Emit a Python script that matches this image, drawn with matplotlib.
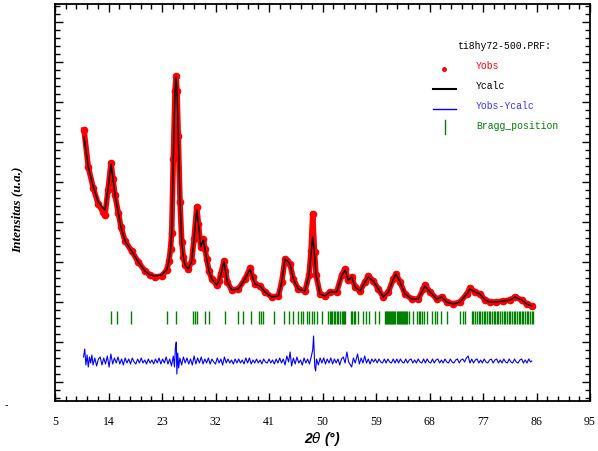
import numpy as np
import matplotlib.pyplot as plt
from matplotlib.lines import Line2D
from matplotlib.ticker import FixedLocator, MultipleLocator

# 2theta positions of the profile and intensities (arbitrary units)
tt = [9.88, 10.60, 11.44, 12.28, 13.08, 13.41, 13.92, 14.42, 14.76, 15.09,
      15.65, 16.10, 16.78, 17.90, 19.01, 20.14, 20.98, 21.82, 22.95, 23.79,
      24.18, 24.43, 24.63, 24.90, 25.19, 25.36, 25.53, 25.74, 26.03, 26.32,
      26.59, 26.87, 27.43, 28.00, 28.38, 28.84, 29.14, 29.51, 29.95, 30.24,
      30.52, 30.91, 31.36, 32.20, 32.59, 32.88, 33.43, 33.68, 33.99, 34.73,
      35.84, 36.97, 37.81, 38.23, 38.65, 39.49, 40.33, 41.46, 42.57, 43.14,
      43.69, 44.11, 44.54, 45.09, 45.93, 47.06, 47.73, 48.07, 48.35, 48.66,
      48.91, 49.58, 50.42, 51.27, 52.39, 53.23, 53.79, 54.34, 54.92, 55.47,
      56.31, 57.15, 57.71, 58.55, 59.39, 60.23, 61.07, 61.91, 62.37, 63.04,
      63.88, 65.01, 66.12, 66.96, 67.25, 68.09, 69.22, 70.06, 70.90, 72.01,
      73.14, 74.26, 74.82, 75.66, 76.50, 77.34, 78.18, 79.19, 80.42, 81.55,
      82.39, 83.52, 84.36, 85.20]
ycalc = [2447, 2147, 1947, 1797, 1737, 1717, 1927, 2177, 2027, 1867,
         1687, 1547, 1407, 1307, 1197, 1107, 1067, 1057, 1067, 1117,
         1207, 1327, 1487, 2227, 2907, 3047, 2907, 2457, 1797, 1397,
         1247, 1167, 1127, 1207, 1427, 1717, 1577, 1347, 1417, 1327,
         1227, 1107, 1027, 967, 1007, 1067, 1207, 1107, 997, 917,
         927, 1027, 1127, 1047, 977, 957, 897, 847, 857, 997,
         1227, 1207, 1177, 1027, 927, 907, 1067, 1277, 1447, 1277,
         1067, 877, 857, 897, 897, 1057, 1117, 1017, 1047, 947,
         907, 997, 1047, 1007, 927, 847, 897, 1027, 1077, 997,
         877, 827, 827, 927, 957, 897, 827, 847, 797, 777,
         797, 877, 927, 897, 877, 817, 797, 797, 807, 817,
         847, 817, 777, 757]
yobs = [2517, 2147, 1937, 1777, 1697, 1667, 1917, 2187, 2027, 1867,
        1687, 1547, 1407, 1307, 1197, 1107, 1067, 1047, 1057, 1117,
        1207, 1327, 1487, 2227, 2907, 3057, 2907, 2457, 1797, 1397,
        1247, 1167, 1127, 1207, 1427, 1747, 1577, 1347, 1427, 1327,
        1227, 1107, 1027, 967, 1007, 1077, 1207, 1107, 997, 917,
        927, 1027, 1137, 1047, 977, 957, 897, 847, 857, 997,
        1227, 1207, 1177, 1027, 927, 907, 1067, 1307, 1677, 1297,
        1067, 877, 857, 897, 897, 1067, 1127, 1017, 1047, 947,
        907, 997, 1057, 1007, 927, 847, 897, 1027, 1077, 997,
        877, 827, 827, 927, 967, 897, 827, 847, 797, 777,
        797, 877, 937, 897, 877, 817, 797, 797, 807, 817,
        847, 817, 777, 757]

# difference curve (shifted)
diff_tt = [9.8, 10.0, 10.2, 10.4, 10.6, 10.8, 11.0, 11.2, 11.4, 11.7,
           12.0, 12.3, 12.6, 12.9, 13.2, 13.5, 13.8, 14.1, 14.4, 14.7,
           15.0, 15.3, 15.6, 15.9, 16.2, 16.5, 16.8, 17.1, 17.4, 17.7,
           18.0, 18.3, 18.6, 18.9, 19.2, 19.5, 19.8, 20.1, 20.4, 20.7,
           21.0, 21.3, 21.6, 21.9, 22.2, 22.5, 22.8, 23.1, 23.4, 23.7,
           24.0, 24.3, 24.6, 24.9, 25.1, 25.25, 25.4, 25.5, 25.65, 25.8,
           26.0, 26.3, 26.6, 26.9, 27.2, 27.5, 27.8, 28.1, 28.4, 28.7,
           29.0, 29.3, 29.6, 29.9, 30.2, 30.5, 30.8, 31.1, 31.4, 31.7,
           32.0, 32.3, 32.6, 32.9, 33.2, 33.5, 33.8, 34.1, 34.4, 34.7,
           35.0, 35.3, 35.6, 35.9, 36.2, 36.5, 36.8, 37.1, 37.4, 37.7,
           38.0, 38.3, 38.6, 38.9, 39.2, 39.5, 39.8, 40.1, 40.4, 40.7,
           41.0, 41.3, 41.6, 41.9, 42.2, 42.5, 42.8, 43.1, 43.4, 43.7,
           44.0, 44.3, 44.55, 44.8, 45.1, 45.4, 45.7, 46.0, 46.3, 46.6,
           46.9, 47.2, 47.5, 47.8, 48.1, 48.35, 48.5, 48.7, 48.85, 49.0,
           49.3, 49.6, 49.9, 50.2, 50.5, 50.8, 51.1, 51.4, 51.7, 52.0,
           52.3, 52.6, 52.9, 53.2, 53.5, 53.8, 54.1, 54.4, 54.7, 54.9,
           55.2, 55.5, 55.9, 56.2, 56.5, 56.8, 57.1, 57.4, 57.7, 58.0,
           58.3, 58.6, 58.9, 59.2, 59.5, 59.8, 60.1, 60.4, 60.7, 61.0,
           61.3, 61.6, 61.9, 62.2, 62.5, 62.8, 63.1, 63.4, 63.7, 64.0,
           64.3, 64.6, 64.9, 65.2, 65.5, 65.8, 66.1, 66.4, 66.7, 67.0,
           67.3, 67.6, 67.9, 68.2, 68.5, 68.8, 69.1, 69.4, 69.7, 70.0,
           70.3, 70.6, 70.9, 71.2, 71.5, 71.8, 72.1, 72.4, 72.7, 73.0,
           73.3, 73.6, 73.9, 74.2, 74.5, 74.8, 75.1, 75.4, 75.7, 76.0,
           76.3, 76.6, 76.9, 77.2, 77.5, 77.8, 78.1, 78.4, 78.7, 79.0,
           79.3, 79.6, 79.9, 80.2, 80.5, 80.8, 81.1, 81.4, 81.7, 82.0,
           82.3, 82.6, 82.9, 83.2, 83.5, 83.8, 84.1, 84.4, 84.7, 85.0, 85.2]
diff = [247, 327, 167, 267, 147, 247, 187, 267, 167, 237,
        157, 227, 247, 167, 237, 177, 257, 147, 277, 177,
        237, 187, 247, 177, 227, 167, 237, 187, 227, 177,
        237, 197, 177, 227, 187, 237, 187, 217, 177, 227,
        187, 217, 177, 227, 187, 237, 177, 227, 187, 247,
        177, 227, 157, 257, 147, 337, 397, 77, 287, 137,
        237, 167, 247, 187, 237, 177, 227, 167, 257, 177,
        237, 187, 247, 177, 227, 187, 237, 177, 227, 197,
        177, 237, 187, 227, 167, 247, 187, 227, 187, 217,
        177, 227, 187, 227, 187, 217, 177, 237, 187, 237,
        177, 217, 187, 227, 187, 217, 177, 227, 197, 187,
        227, 187, 217, 177, 227, 187, 237, 187, 227, 167,
        257, 197, 297, 157, 237, 177, 247, 187, 217, 167,
        237, 187, 227, 177, 247, 317, 457, 147, 107, 227,
        167, 237, 187, 237, 177, 227, 187, 237, 177, 227,
        187, 227, 167, 227, 247, 187, 297, 197, 167, 147,
        237, 187, 277, 177, 237, 187, 257, 187, 227, 177,
        227, 197, 227, 187, 227, 197, 187, 227, 187, 227,
        197, 187, 227, 187, 227, 187, 227, 197, 187, 227,
        187, 217, 227, 187, 217, 187, 227, 197, 187, 227,
        187, 227, 197, 187, 227, 187, 217, 227, 187, 217,
        187, 227, 197, 187, 227, 197, 187, 217, 227, 187,
        217, 227, 197, 237, 257, 187, 227, 187, 217, 227,
        187, 217, 187, 227, 197, 187, 217, 227, 187, 217,
        227, 187, 217, 187, 227, 197, 187, 227, 197, 187,
        227, 197, 187, 217, 227, 187, 217, 187, 227, 197, 207]

# Bragg reflections
bragg = [14.37, 15.48, 17.79, 23.89, 25.36, 28.17, 28.50, 28.84, 30.24, 30.96,
         33.60, 35.84, 36.58, 37.92, 39.32, 39.66, 40.04, 41.90, 43.58, 44.37,
         45.09, 45.93, 46.34, 46.77, 47.35, 47.78, 48.19, 48.57, 49.03, 49.87,
         51.00, 51.20, 51.43, 51.65, 51.94, 52.15, 52.39, 52.60, 52.90, 53.23,
         53.42, 53.62, 53.80, 54.75, 54.92, 55.30, 55.47, 56.03, 56.87, 57.32,
         57.88, 58.84, 59.56, 60.52, 60.70, 60.88, 61.05, 61.22, 61.40, 61.58,
         61.75, 61.92, 62.10, 62.28, 62.45, 62.62, 62.80, 62.98, 63.15, 63.32,
         63.50, 63.68, 63.85, 64.02, 64.17, 64.61, 65.18, 65.95, 66.20, 66.45,
         66.69, 67.08, 67.63, 68.37, 68.93, 69.32, 69.89, 70.90, 73.14, 73.59,
         73.98, 75.10, 75.40, 75.70, 76.00, 76.25, 76.55, 76.80, 77.10, 77.40,
         77.65, 77.95, 78.20, 78.50, 78.80, 79.05, 79.35, 79.60, 79.90, 80.20,
         80.45, 80.75, 81.00, 81.30, 81.60, 81.85, 82.15, 82.40, 82.70, 83.00,
         83.25, 83.55, 83.80, 84.10, 84.40, 84.65, 84.95, 85.20, 85.47]

xticks = [5, 14, 23, 32, 41, 50, 59, 68, 77, 86, 95]

W, H = 598, 452
fig = plt.figure(figsize=(W / 100, H / 100), dpi=100)
ax = fig.add_axes([55 / W, 1 - 402 / H, 535 / W, 397 / H])

ax.plot(tt, yobs, color='red', lw=4, zorder=2)
ax.plot(tt, yobs, 'o', color='red', ms=4.5, mec='red', zorder=2)
ax.plot(tt, ycalc, color='black', lw=1.0, zorder=3)
ax.plot(diff_tt, diff, color='#0000ff', lw=0.8)
ax.vlines(bragg, 577, 707, color='#008000', lw=1.0)

ax.set_xlim(5, 95)
ax.set_ylim(-193, 3777)
ax.xaxis.set_major_locator(FixedLocator(xticks))
ax.xaxis.set_minor_locator(FixedLocator(np.arange(5, 95.01, 1.8)))
ax.yaxis.set_major_locator(MultipleLocator(400))
ax.yaxis.set_minor_locator(MultipleLocator(80))
ax.tick_params(which='both', direction='in', top=True, right=True, width=1)
ax.tick_params(which='major', length=6)
ax.tick_params(which='minor', length=3.5)
ax.tick_params(axis='y', labelleft=False)
ax.tick_params(axis='x', pad=10, labelsize=8.5)
for lab in ax.get_xticklabels():
    lab.set_family('Liberation Serif')
for sp in ax.spines.values():
    sp.set_linewidth(1.3)

fig.text(322 / W, 1 - 439 / H, r'2$\theta$ (°)', ha='center', va='center', fontsize=10,
         fontweight='bold', fontstyle='italic', family='Liberation Sans')
fig.text(17 / W, 1 - 210 / H, 'Intensitas (u.a.)', rotation=90, ha='center', va='center',
         fontsize=9.5, fontweight='bold', fontstyle='italic', family='Liberation Serif')
fig.text(5 / W, 1 - 405 / H, '-', fontsize=7, ha='left', va='center')

# legend drawn by hand like FullProf does
mono = 'Liberation Mono'
fig.text(457 / W, 1 - 46 / H, 'ti8hy72-500.PRF:', fontsize=7, family=mono, va='center')
fig.text(476 / W, 1 - 66 / H, 'Yobs', fontsize=7, family=mono, color='red', va='center')
fig.text(476 / W, 1 - 86 / H, 'Ycalc', fontsize=7, family=mono, color='black', va='center')
fig.text(476 / W, 1 - 106 / H, 'Yobs-Ycalc', fontsize=7, family=mono, color='#3333ff', va='center')
fig.text(476 / W, 1 - 126 / H, 'Bragg_position', fontsize=7, family=mono, color='#008000', va='center')
fig.add_artist(Line2D([444 / W], [1 - 69.5 / H], marker='o', ms=2.5, color='red'))
fig.add_artist(Line2D([433 / W, 456 / W], [1 - 89.5 / H] * 2, color='black', lw=1.5))
fig.add_artist(Line2D([433 / W, 456 / W], [1 - 109.5 / H] * 2, color='#0000ff', lw=1))
fig.add_artist(Line2D([445 / W] * 2, [1 - 121 / H, 1 - 135 / H], color='#008000', lw=1))

fig.savefig('out.png', dpi=100)
